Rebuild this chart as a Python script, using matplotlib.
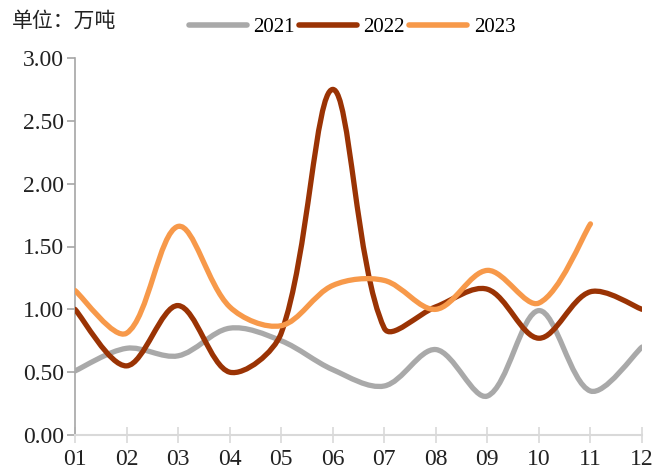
import numpy as np
import matplotlib
matplotlib.use("Agg")
import matplotlib.pyplot as plt
from matplotlib.path import Path
from matplotlib.patches import PathPatch
from matplotlib.lines import Line2D

months = ["01", "02", "03", "04", "05", "06", "07", "08", "09", "10", "11", "12"]
s2021 = [0.51, 0.69, 0.63, 0.85, 0.75, 0.52, 0.39, 0.68, 0.31, 0.99, 0.35, 0.70]
s2022 = [1.00, 0.55, 1.03, 0.50, 0.81, 2.75, 0.85, 1.02, 1.16, 0.77, 1.14, 1.00]
s2023 = [1.15, 0.81, 1.66, 1.02, 0.87, 1.19, 1.23, 1.00, 1.31, 1.05, 1.68]
series_names = ["2021", "2022", "2023"]
colors = ["#A9A9A9", "#9A3304", "#F7994A"]
yticks = [0.0, 0.5, 1.0, 1.5, 2.0, 2.5, 3.0]

plt.rcParams['font.family'] = ['Liberation Serif', 'Noto Sans CJK SC', 'DejaVu Sans']

fig = plt.figure(figsize=(6.55, 4.74), dpi=100)
ax = fig.add_axes([75/655, (474-435)/474, (642-75)/655, (435-58)/474])

# approximate pixel size of one x unit and one y unit (for chord lengths)
XS, YS = 51.5, 125.7


def smooth_path(xs, ys):
    pts = np.column_stack([xs, ys]).astype(float)
    sc = np.array([XS, YS])
    n = len(pts)

    def d(a, b):
        return np.linalg.norm((pts[a] - pts[b]) * sc)

    verts = [pts[0]]
    codes = [Path.MOVETO]
    for i in range(n - 1):
        p1, p2 = pts[i], pts[i + 1]
        # outgoing handle at p1
        if i > 0:
            t = pts[i + 1] - pts[i - 1]
            dl, dr = d(i - 1, i), d(i, i + 1)
            c1 = p1 + t * dr / (dl + dr) / 3.0
        else:
            c1 = p1 + (p2 - p1) / 3.0 * 0.5
        # incoming handle at p2
        if i + 2 < n:
            t = pts[i + 2] - pts[i]
            dl, dr = d(i, i + 1), d(i + 1, i + 2)
            c2 = p2 - t * dl / (dl + dr) / 3.0
        else:
            c2 = p2 - (p2 - p1) / 3.0 * 0.5
        verts += [c1, c2, p2]
        codes += [Path.CURVE4] * 3
    return Path(verts, codes)


for vals, col in zip([s2021, s2022, s2023], colors):
    xs = np.arange(len(vals))
    p = smooth_path(xs, vals)
    patch = PathPatch(p, facecolor='none', edgecolor=col, lw=3.8,
                      capstyle='round', joinstyle='round', zorder=3)
    ax.add_patch(patch)

ax.set_xlim(0, len(months) - 1)
ax.set_ylim(0, 3.0)
ax.set_xticks(np.arange(len(months)))
ax.set_xticklabels(months)
ax.set_yticks(yticks)
ax.set_yticklabels([f"{v:.2f}" for v in yticks])

for sp in ['top', 'right']:
    ax.spines[sp].set_visible(False)
ax.spines['left'].set_color('#A6A6A6')
ax.spines['bottom'].set_color('#D9D9D9')
ax.spines['left'].set_linewidth(1.2)
ax.spines['bottom'].set_linewidth(1.5)
ax.tick_params(axis='y', direction='out', length=6, width=1.2, color='#A6A6A6',
               labelsize=17, pad=2, labelcolor='#222222')
ax.tick_params(axis='x', direction='inout', length=12, width=1.2, color='#D9D9D9',
               labelsize=17, pad=4, labelcolor='#222222')

handles = [Line2D([], [], color=c, lw=4, solid_capstyle='round') for c in colors]
fig.legend(handles, series_names, loc='center', bbox_to_anchor=(352/655, 1 - 27/474),
           ncol=3, frameon=False, fontsize=15, handlelength=2.8, handletextpad=0.3,
           columnspacing=0.2, borderpad=0)

fig.text(12/655, 1 - 22/474, "单位：万吨", fontsize=15, va='center', ha='left',
         color='#222222')

fig.savefig("out.png", dpi=100)
